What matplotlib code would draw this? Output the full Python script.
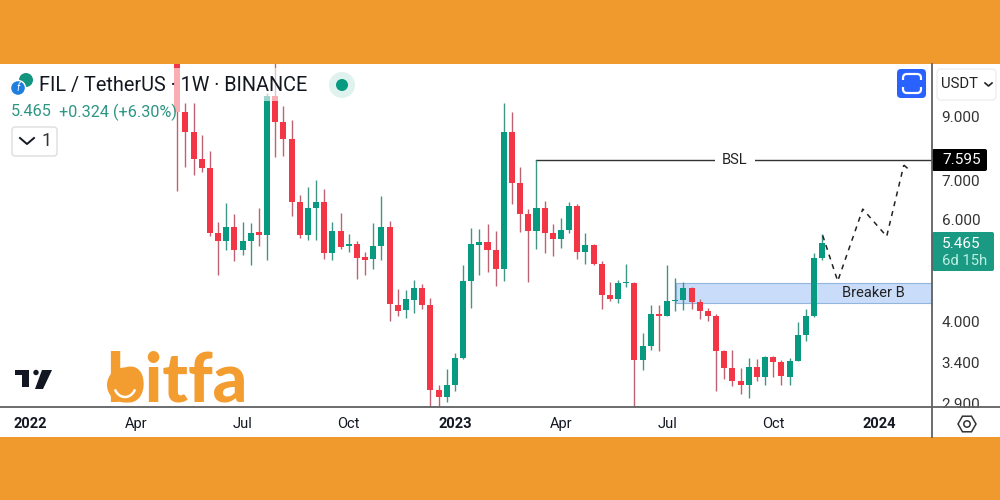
import numpy as np
import matplotlib
matplotlib.use("Agg")
import matplotlib.pyplot as plt
from matplotlib.patches import Rectangle, FancyBboxPatch, Circle, Polygon, RegularPolygon

plt.rcParams['font.family'] = ['Roboto', 'DejaVu Sans']

# weekly candles
opens = [12.50, 9.19, 8.47, 7.62, 7.36, 5.69, 5.50, 5.83, 5.31, 5.51,
         5.70, 5.65, 9.77, 8.81, 8.24, 6.42, 5.65, 6.28, 6.42, 5.26,
         5.72, 5.40, 5.45, 5.16, 5.12, 5.39, 5.83, 4.28, 4.19, 4.36,
         4.58, 4.28, 3.05, 2.97, 3.11, 3.46, 4.71, 5.43, 5.49, 5.31,
         4.93, 8.49, 6.92, 6.14, 5.73, 6.28, 5.69, 5.56, 5.75, 6.33,
         5.27, 5.42, 5.03, 4.45, 4.38, 4.66, 4.67, 3.44, 3.64, 4.12,
         4.10, 4.34, 4.36, 4.57, 4.32, 4.17, 4.10, 3.57, 3.33, 3.17,
         3.12, 3.34, 3.21, 3.48, 3.41, 3.22, 3.43, 3.80, 4.10, 5.14]
highs = [13.20, 9.51, 9.53, 8.38, 7.88, 5.95, 6.41, 6.12, 5.95, 5.91,
         6.27, 9.90, 11.70, 9.41, 8.91, 6.61, 6.81, 7.00, 6.78, 5.93,
         6.16, 5.67, 5.50, 5.28, 5.91, 6.59, 5.97, 4.55, 4.53, 4.72,
         4.64, 4.39, 3.12, 3.32, 3.54, 5.00, 5.80, 5.78, 5.89, 5.73,
         9.53, 9.19, 7.38, 6.25, 7.595, 6.45, 5.89, 6.03, 6.43, 6.37,
         5.69, 5.45, 5.08, 4.69, 4.72, 5.02, 4.68, 3.83, 4.28, 4.28,
         5.00, 4.75, 4.68, 4.60, 4.38, 4.23, 4.13, 3.58, 3.58, 3.33,
         3.47, 3.45, 3.50, 3.49, 3.44, 3.46, 3.99, 4.20, 5.26, 5.67]
lows = [6.72, 7.39, 7.16, 7.23, 5.61, 4.81, 5.31, 5.08, 5.21, 5.01,
        5.39, 5.11, 7.69, 7.71, 6.07, 5.57, 5.54, 5.54, 5.13, 5.11,
        5.33, 5.28, 4.73, 4.81, 4.93, 5.10, 4.01, 4.09, 4.06, 4.15,
        4.20, 2.80, 2.83, 2.91, 3.04, 3.45, 4.23, 4.82, 4.87, 4.61,
        4.70, 6.37, 5.70, 4.68, 5.34, 5.26, 5.20, 5.35, 5.69, 5.13,
        5.03, 5.00, 4.21, 4.35, 4.31, 4.60, 2.70, 3.30, 3.58, 3.57,
        4.09, 4.17, 4.19, 4.20, 4.04, 4.02, 3.04, 3.19, 3.10, 3.01,
        2.96, 3.17, 3.11, 3.21, 3.11, 3.12, 3.42, 3.71, 4.07, 5.11]
closes = [9.19, 8.47, 7.62, 7.36, 5.69, 5.50, 5.83, 5.31, 5.51, 5.69,
          5.65, 9.77, 8.81, 8.24, 6.42, 5.63, 6.28, 6.42, 5.26, 5.72,
          5.38, 5.45, 5.15, 5.11, 5.39, 5.83, 4.30, 4.17, 4.37, 4.58,
          4.28, 3.05, 2.97, 3.11, 3.46, 4.71, 5.45, 5.49, 5.31, 4.93,
          8.49, 6.92, 6.14, 5.73, 6.28, 5.69, 5.55, 5.75, 6.33, 5.27,
          5.42, 5.03, 4.45, 4.38, 4.67, 4.68, 3.44, 3.64, 4.12, 4.10,
          4.34, 4.36, 4.57, 4.32, 4.17, 4.10, 3.57, 3.33, 3.16, 3.12,
          3.34, 3.21, 3.48, 3.41, 3.23, 3.43, 3.80, 4.10, 5.14, 5.465]

# x axis labels (position in weeks from the first visible candle)
time_pos = [-18, -5, 8, 21, 34, 47, 60, 73, 86]
time_labels = ['2022', 'Apr', 'Jul', 'Oct', '2023', 'Apr', 'Jul', 'Oct', '2024']
price_ticks = [9.0, 7.0, 6.0, 4.0, 3.4, 2.9]
price_labels = ['9.000', '7.000', '6.000', '4.000', '3.400', '2.900']

# drawings on the chart
bsl_price = 7.595
bsl_start = 44
zone_top, zone_bottom = 4.67, 4.31
zone_start = 61.1
path_x = [79.06, 80.9, 83.97, 86.9, 89.0]
path_y = [5.63, 4.70, 6.25, 5.61, 7.44]
tip_x = [89.0, 89.67]
tip_y = [7.44, 7.30]

GREEN = '#089981'
RED = '#f23645'
ORANGE = '#f09a2d'
LINE = '#5f6062'

fig = plt.figure(figsize=(10, 5), dpi=100, facecolor='white')
ax = fig.add_axes([0, 0.186, 0.932, 0.686])
ax.set_yscale('log')
ax.set_xlim(-21.72, 92.45)
ax.set_ylim(2.855, 11.10)

o = np.array(opens)
h = np.array(highs)
l = np.array(lows)
c = np.array(closes)
x = np.arange(len(o))
up = c >= o

# candles
ax.vlines(x[up], l[up], h[up], color='#3f9686', lw=1.0, zorder=3)
ax.vlines(x[~up], l[~up], h[~up], color='#bd6272', lw=1.0, zorder=3)
ax.bar(x[up], (c - o)[up], bottom=o[up], width=0.74, color=GREEN, lw=0, zorder=4)
ax.bar(x[~up], (o - c)[~up], bottom=c[~up], width=0.74, color=RED, lw=0, zorder=4)

# breaker block, BSL line, projected path
ax.add_patch(Rectangle((zone_start, zone_bottom), 92.45 - zone_start, zone_top - zone_bottom,
                       facecolor='#c9dcfa', edgecolor='#93b6dc', lw=0.8, zorder=1))
ax.text(85.3, 4.49, 'Breaker B', ha='center', va='center', fontsize=10.5, color='#222222', zorder=5)
ax.plot([bsl_start, 92.45], [bsl_price, bsl_price], color='#333333', lw=1.0, zorder=2)
ax.text(68.3, bsl_price, 'BSL', ha='center', va='center', fontsize=10.5, color='#222222', zorder=5,
        bbox=dict(facecolor='white', edgecolor='none', pad=5))
ax.plot(path_x, path_y, color='#222222', lw=1.1, dashes=(3.3, 3.3), zorder=5)
ax.plot(tip_x, tip_y, color='#222222', lw=1.1, dashes=(3.3, 3.3), zorder=5)

# axes
for side in ['top', 'left', 'bottom', 'right']:
    ax.spines[side].set_visible(False)
ax.set_xticks(time_pos)
ax.set_xticklabels(time_labels, fontsize=10.5, color='#131722')
for lab in ax.get_xticklabels():
    if lab.get_text().startswith('20'):
        lab.set_fontweight('bold')
ax.tick_params(axis='x', length=0, pad=7)
ax.yaxis.tick_right()
ax.set_yticks(price_ticks)
ax.yaxis.set_minor_locator(plt.NullLocator())
ax.set_yticklabels(price_labels, fontsize=11, color='#333333')
ax.tick_params(axis='y', length=0, pad=7)

# everything else sits on a full-figure layer in pixel coordinates
ov = fig.add_axes([0, 0, 1, 1], facecolor='none')
ov.set_xlim(0, 1000)
ov.set_ylim(500, 0)
ov.axis('off')

# orange bands
ov.add_patch(Rectangle((0, 0), 1000, 64, color=ORANGE, lw=0))
ov.add_patch(Rectangle((0, 437), 1000, 63, color=ORANGE, lw=0))
ov.add_patch(Rectangle((933, 408), 67, 29, color='white', lw=0))

# pane borders
ov.plot([0, 1000], [407, 407], color=LINE, lw=1.3)
ov.plot([932, 932], [64, 437], color=LINE, lw=1.3)

# legend veil over the candles
ov.add_patch(Rectangle((0, 68), 340, 33, color='white', alpha=0.6, lw=0))
ov.add_patch(Rectangle((170, 101), 12, 11, color='white', alpha=0.6, lw=0))

# symbol icons
ov.add_patch(Circle((26, 80), 7, color='#14957f', lw=0))
ov.add_patch(Circle((18, 88), 7.5, color='#1e7fe0', ec='white', lw=1))
ov.text(18, 88, 'f', color='white', fontsize=7, style='italic', ha='center', va='center')
ov.text(39, 85, 'FIL / TetherUS · 1W · BINANCE', fontsize=14.3, color='#131722', va='center', ha='left')
ov.text(11, 112, '5.465', fontsize=11.7, color='#2c9683', va='center')
ov.text(59, 112, '+0.324 (+6.30%)', fontsize=11.7, color='#2c9683', va='center')

# collapse button
ov.add_patch(FancyBboxPatch((12, 127), 45, 29, boxstyle='round,pad=0,rounding_size=3',
                            fc='white', ec='#dddddd', lw=1))
ov.plot([20, 27, 34], [138, 144, 138], color='#131722', lw=1.4)
ov.text(47, 141.5, '1', fontsize=13, color='#333333', ha='center', va='center')

# live dot
ov.add_patch(Circle((342, 85), 13, color='#e0f2ee', lw=0))
ov.add_patch(Circle((342, 85), 6, color=GREEN, lw=0))

# fullscreen button
ov.add_patch(FancyBboxPatch((897, 69), 29, 29, boxstyle='round,pad=0,rounding_size=4', fc='#2962ff', ec='none'))
ov.add_patch(FancyBboxPatch((903, 74), 18, 19, boxstyle='round,pad=0,rounding_size=4', fc='none', ec='white', lw=1.6))
ov.add_patch(Rectangle((900, 80), 24, 7, color='#2962ff', lw=0))

# currency button
ov.add_patch(FancyBboxPatch((937, 69), 59, 31, boxstyle='round,pad=0,rounding_size=4', fc='white', ec='#eeeeee', lw=1))
ov.text(941, 84.5, 'USDT', fontsize=10.7, color='#222222', va='center')
ov.plot([985, 988.5, 992], [83, 86, 83], color='#222222', lw=1.2)

# price labels
ov.add_patch(FancyBboxPatch((932, 149), 55, 22, boxstyle='round,pad=0,rounding_size=2', fc='black', ec='none'))
ov.text(942, 160, '7.595', fontsize=11, color='white', va='center')
ov.add_patch(FancyBboxPatch((932, 232), 62, 39, boxstyle='round,pad=0,rounding_size=2', fc='#1a9a83', ec='none'))
ov.text(942, 243.5, '5.465', fontsize=11, color='white', va='center')
ov.text(942, 261, '6d 15h', fontsize=10.7, color='#bdeee2', va='center')

# settings icon
ov.add_patch(RegularPolygon((967, 424), 6, radius=9, orientation=np.pi / 2, fc='none', ec='#333333', lw=1.1))
ov.add_patch(Circle((967, 424), 3.2, fc='none', ec='#333333', lw=1.1))

# tradingview logo
ov.add_patch(Polygon([(15, 370), (29, 370), (29, 387), (22, 387), (22, 375), (15, 375)], color='#131722', lw=0))
ov.add_patch(Circle((36, 372.5), 2.7, color='#131722', lw=0))
ov.add_patch(Polygon([(42, 370), (52, 370), (43, 389), (35, 389)], color='#131722', lw=0))

# bitfa logo, the b has a filled bowl with a smile in it
ov.text(106, 402, 'bitfa', fontsize=49, fontweight='black', family=['Lato', 'DejaVu Sans'],
        color='#f39c2f', va='baseline', ha='left')
ov.add_patch(Circle((124.5, 385), 17.5, color='#f39c2f', lw=0))
smile = np.radians(np.linspace(30, 150, 30))
ov.plot(125 + 11 * np.cos(smile), 384 + 13 * np.sin(smile), color='white', lw=1.8, zorder=5)

fig.savefig('out.png', dpi=100)
